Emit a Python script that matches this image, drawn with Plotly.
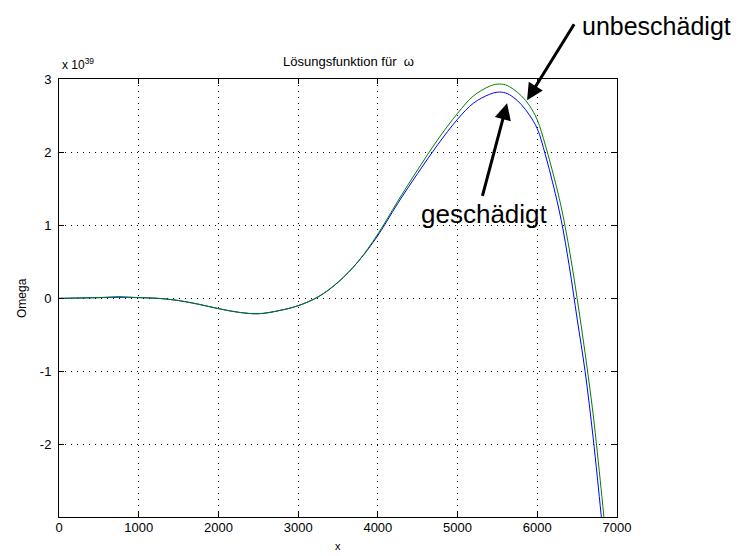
import plotly.graph_objects as go

# x positions and Omega values (in units of 1e39)
x_vals = [0, 250, 500, 750, 1000, 1250, 1500, 1750, 2000, 2250, 2500, 2750,
          3000, 3250, 3500, 3750, 4000, 4250, 4500, 4750, 5000, 5200, 5400,
          5500, 5600, 5700, 5800, 5900, 6000, 6100, 6200, 6300, 6400, 6500,
          6600, 6700, 6800, 6850]
omega_unbeschaedigt = [0, 0.005, 0.01, 0.012, 0.01, 0.0, -0.03, -0.08, -0.14,
                       -0.19, -0.21, -0.17, -0.10, 0.02, 0.22, 0.50, 0.88, 1.33,
                       1.76, 2.17, 2.53, 2.77, 2.90, 2.93, 2.92, 2.86, 2.77,
                       2.64, 2.44, 2.10, 1.70, 1.25, 0.68, 0.0, -0.75, -1.58,
                       -2.60, -3.15]
omega_geschaedigt = [0, 0.005, 0.01, 0.022, 0.01, 0.0, -0.03, -0.08, -0.14,
                     -0.19, -0.21, -0.17, -0.10, 0.02, 0.22, 0.50, 0.86, 1.30,
                     1.71, 2.10, 2.45, 2.67, 2.79, 2.82, 2.81, 2.75, 2.65,
                     2.51, 2.32, 1.97, 1.55, 1.07, 0.45, -0.28, -1.00, -1.90,
                     -2.95, -3.50]

x_ticks = [0, 1000, 2000, 3000, 4000, 5000, 6000, 7000]
y_ticks = [-2, -1, 0, 1, 2, 3]
y_ticktext = ["-2", "-1", "0", "1", "2", "3"]

FONT = "Liberation Sans, Arial, sans-serif"

fig = go.Figure()
fig.add_trace(go.Scatter(x=x_vals, y=omega_geschaedigt, mode="lines",
                         line=dict(color="#0000ff", width=1, shape="spline", smoothing=1.0)))
fig.add_trace(go.Scatter(x=x_vals, y=omega_unbeschaedigt, mode="lines",
                         line=dict(color="#008000", width=1, shape="spline", smoothing=1.0)))

axis_style = dict(showline=True, linecolor="black", linewidth=1, mirror="ticks",
                  ticks="inside", ticklen=5, tickcolor="black",
                  showgrid=True, gridcolor="black", gridwidth=1, griddash="1px,5px",
                  zeroline=False, automargin=False,
                  tickfont=dict(family=FONT, size=13, color="black"))

fig.update_xaxes(range=[0, 7000], tickvals=x_ticks, ticklabelstandoff=-2, **axis_style)
fig.update_yaxes(range=[-2.99, 3], tickvals=y_ticks, ticktext=y_ticktext,
                 ticklabelstandoff=4, **axis_style)

# the page body adds an 8px offset, so the figure is 8px smaller than the window
fig.update_layout(
    width=736, height=548,
    margin=dict(l=51, r=127, t=71, b=39),
    paper_bgcolor="white", plot_bgcolor="white",
    showlegend=False,
    font=dict(family=FONT, color="black"),
)

# titles as annotations to place them like the MATLAB figure
fig.add_annotation(text="Lösungsfunktion für  ω", xref="paper", yref="paper",
                   x=0.5, y=1, xshift=10, yshift=18, showarrow=False,
                   font=dict(size=13), xanchor="center", yanchor="middle")
fig.add_annotation(text="x 10<sup>39</sup>", xref="paper", yref="paper",
                   x=0, y=1, xshift=1, yshift=15, showarrow=False,
                   font=dict(size=12), xanchor="left", yanchor="middle")
fig.add_annotation(text="Omega", xref="paper", yref="paper", x=0, y=0.5,
                   xshift=-37, showarrow=False, textangle=-90,
                   font=dict(size=12), xanchor="center", yanchor="middle")
fig.add_annotation(text="x", xref="paper", yref="paper", x=0.5, y=0,
                   yshift=-29, showarrow=False, font=dict(size=11),
                   xanchor="center", yanchor="middle")

# labels with arrows
fig.add_annotation(text="unbeschädigt", xref="paper", yref="paper",
                   x=1, y=1, xshift=-37, yshift=53, showarrow=False,
                   font=dict(size=25), xanchor="left", yanchor="middle")
fig.add_annotation(text="", x=5872, y=2.71, ax=6474, ay=3.77,
                   axref="x", ayref="y", showarrow=True,
                   arrowhead=2, arrowsize=1.1, arrowwidth=3, arrowcolor="black")
fig.add_annotation(text="geschädigt", x=5332, y=1.15, showarrow=False,
                   font=dict(size=26), xanchor="center", yanchor="middle")
fig.add_annotation(text="", x=5621, y=2.67, ax=5307, ay=1.38,
                   axref="x", ayref="y", showarrow=True,
                   arrowhead=2, arrowsize=1.1, arrowwidth=3, arrowcolor="black")

fig.write_html("out.html")
